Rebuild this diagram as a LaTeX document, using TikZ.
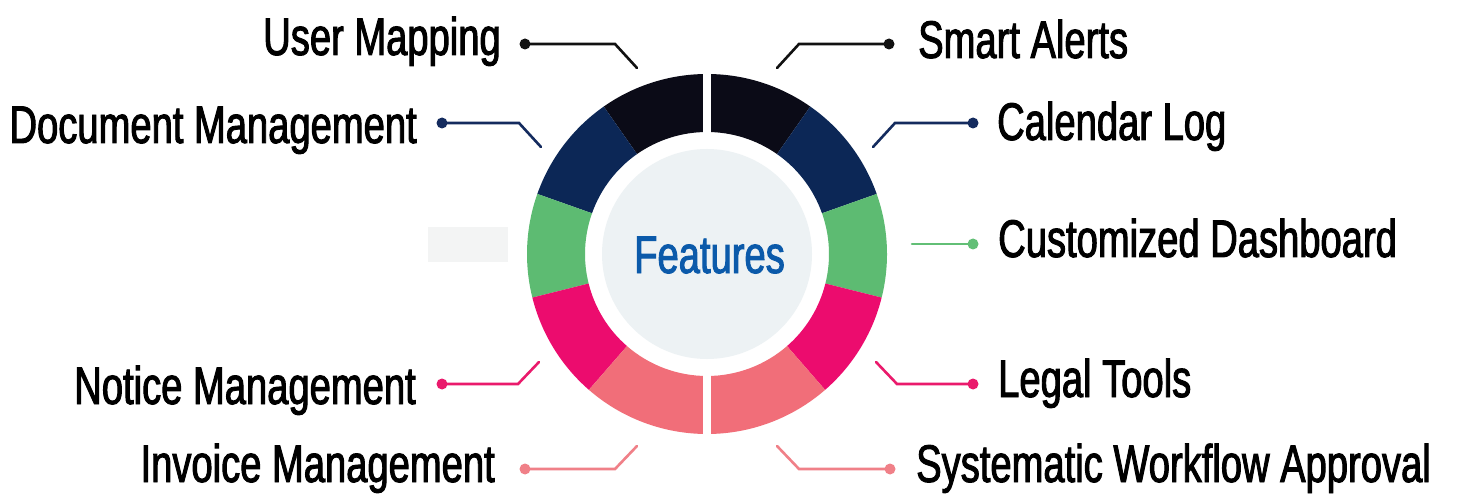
\documentclass[tikz,border=0pt]{standalone}
\usepackage{fontspec}
\newfontfamily\labfont{Liberation Sans}[FakeStretch=0.72,FakeBold=1.8]
\definecolor{segBlack}{HTML}{0B0B17}
\definecolor{segNavy}{HTML}{0C2756}
\definecolor{segGreen}{HTML}{5DBB72}
\definecolor{segPink}{HTML}{EC0C6E}
\definecolor{segSalmon}{HTML}{F16E79}
\definecolor{lnBlack}{HTML}{111111}
\definecolor{lnNavy}{HTML}{142B5E}
\definecolor{lnGreen}{HTML}{62BF76}
\definecolor{lnPink}{HTML}{EA1A6C}
\definecolor{lnSalmon}{HTML}{F08088}
\definecolor{innerFill}{HTML}{EDF2F4}
\definecolor{blankFill}{HTML}{F3F4F4}
\definecolor{featBlue}{HTML}{0B5AAA}
\tikzset{
  lab/.style={font=\labfont\fontsize{53}{62}\selectfont, inner sep=0pt, text=black},
  dotn/.style={circle, inner sep=0pt, minimum size=11pt, draw=none},
  conn/.style={line width=2.6pt, line cap=round, line join=miter},
}
\newcommand\ringseg[3]{%
  \fill[#1, shift={(707,254)}] (-#2:180) arc[start angle=-#2, end angle=-#3, radius=180]
    -- (-#3:122) arc[start angle=-#3, end angle=-#2, radius=122] -- cycle;}
\begin{document}
\begin{tikzpicture}[x=1pt,y=-1pt]
\fill[white] (0,0) rectangle (1466,494);
\useasboundingbox (0,0) rectangle (1466,494);

% ring
\ringseg{segBlack}{90}{55}
\ringseg{segNavy}{55}{19.5}
\ringseg{segGreen}{19.5}{-14}
\ringseg{segPink}{-14}{-49}
\ringseg{segSalmon}{-49}{-90}
\ringseg{segBlack}{90}{125}
\ringseg{segNavy}{125}{160.5}
\ringseg{segGreen}{160.5}{194}
\ringseg{segPink}{194}{229}
\ringseg{segSalmon}{229}{270}
\fill[white] (703,60) rectangle (711,140);
\fill[white] (703,368) rectangle (711,445);
\node[circle, fill=innerFill, minimum size=210pt, inner sep=0pt] (hub) at (707,254) {};
\node[lab, text=featBlue, anchor=base] (feat) at (709.5,273) {Features};

% blank placeholder
\node[fill=blankFill, minimum width=80pt, minimum height=35pt, inner sep=0pt] (blank) at (468,244.5) {};

% User Mapping
\node[dotn, fill=lnBlack] (d1) at (525,44) {};
\coordinate (b1) at (615,44); \coordinate (e1) at (637,68);
\draw[conn, lnBlack] (d1.center) -- (b1) -- (e1);
\node[lab, anchor=base east] (t1) at (501,55) {User Mapping};

% Smart Alerts
\node[dotn, fill=lnBlack] (d2) at (889,44) {};
\coordinate (b2) at (799,44); \coordinate (e2) at (777,68);
\draw[conn, lnBlack] (d2.center) -- (b2) -- (e2);
\node[lab, anchor=base west] (t2) at (918,58) {Smart Alerts};

% Document Management
\node[dotn, fill=lnNavy] (d3) at (442,123) {};
\coordinate (b3) at (519,123); \coordinate (e3) at (541,147);
\draw[conn, lnNavy] (d3.center) -- (b3) -- (e3);
\node[lab, anchor=base east] (t3) at (417,143) {Document Management};

% Calendar Log
\node[dotn, fill=lnNavy] (d4) at (973,123) {};
\coordinate (b4) at (895,123); \coordinate (e4) at (873,147);
\draw[conn, lnNavy] (d4.center) -- (b4) -- (e4);
\node[lab, anchor=base west] (t4) at (997,140) {Calendar Log};

% Customized Dashboard
\node[dotn, fill=lnGreen] (d5) at (973,244) {};
\coordinate (e5) at (912,244);
\draw[conn, lnGreen] (d5.center) -- (e5);
\node[lab, anchor=base west] (t5) at (998,257) {Customized Dashboard};

% Notice Management
\node[dotn, fill=lnPink] (d6) at (442,384) {};
\coordinate (b6) at (518,384); \coordinate (e6) at (539,362);
\draw[conn, lnPink] (d6.center) -- (b6) -- (e6);
\node[lab, anchor=base east] (t6) at (416,404) {Notice Management};

% Legal Tools
\node[dotn, fill=lnPink] (d7) at (973,384) {};
\coordinate (b7) at (897,384); \coordinate (e7) at (876,362);
\draw[conn, lnPink] (d7.center) -- (b7) -- (e7);
\node[lab, anchor=base west] (t7) at (998,397) {Legal Tools};

% Invoice Management
\node[dotn, fill=lnSalmon] (d8) at (525,469) {};
\coordinate (b8) at (615,469); \coordinate (e8) at (637,446);
\draw[conn, lnSalmon] (d8.center) -- (b8) -- (e8);
\node[lab, anchor=base east] (t8) at (495,482) {Invoice Management};

% Systematic Workflow Approval
\node[dotn, fill=lnSalmon] (d9) at (890,469) {};
\coordinate (b9) at (799,469); \coordinate (e9) at (777,446);
\draw[conn, lnSalmon] (d9.center) -- (b9) -- (e9);
\node[lab, anchor=base west] (t9) at (916,482) {Systematic Workflow Approval};
\end{tikzpicture}
\end{document}
